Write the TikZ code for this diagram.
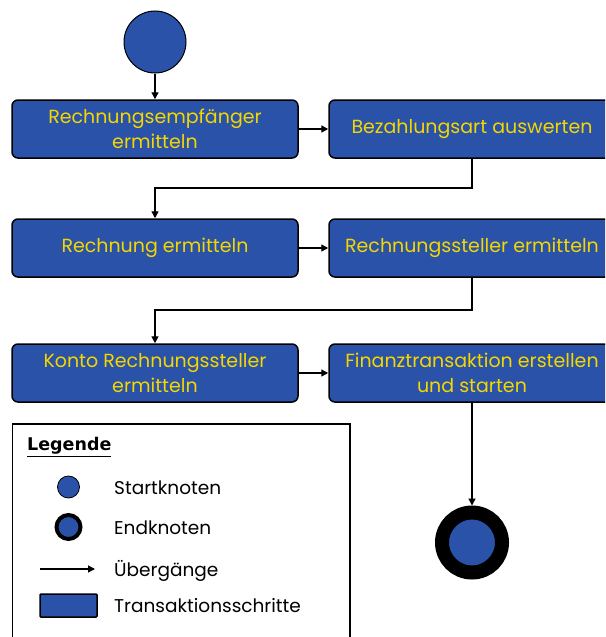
\documentclass[tikz,border=0pt]{standalone}
\usepackage{fontspec}
\setmainfont{Poppins}
\newfontfamily\titlefont{DejaVu Sans}
\usetikzlibrary{arrows.meta}
\definecolor{stepblue}{RGB}{41,82,168}
\definecolor{stepyellow}{RGB}{245,215,0}

\begin{document}
\begin{tikzpicture}[x=1pt,y=-1pt,
  stepbox/.style={draw=black, line width=1.5pt, fill=stepblue, rounded corners=6pt,
    minimum width=286pt, minimum height=58pt, text=stepyellow, align=center,
    font=\fontsize{19}{25}\selectfont, inner sep=0pt},
  flow/.style={line width=1.4pt, -{Triangle[length=7pt,width=7pt]}},
  legtext/.style={anchor=west, font=\fontsize{18.5}{20}\selectfont, text=black, inner sep=0pt}]
\clip (0,0) rectangle (605,637);
\fill[white] (0,0) rectangle (605,637);

% start node
\node[circle, fill=stepblue, draw=black, line width=1pt, minimum size=62pt, inner sep=0pt] (start) at (155,42) {};

% transaction steps
\node[stepbox] (s1) at (155,129) {Rechnungsempfänger\\ermitteln};
\node[stepbox] (s2) at (472,129) {Bezahlungsart auswerten};
\node[stepbox] (s3) at (155,248) {Rechnung ermitteln};
\node[stepbox] (s4) at (472,248) {Rechnungssteller ermitteln};
\node[stepbox] (s5) at (155,373) {Konto Rechnungssteller\\ermitteln};
\node[stepbox] (s6) at (472,373) {Finanztransaktion erstellen\\und starten};

% end node
\node[circle, fill=stepblue, draw=black, line width=14pt, minimum size=60pt, inner sep=0pt] (end) at (472,542.5) {};

% transitions
\coordinate (j1) at (472,188);
\coordinate (j2) at (472,310);
\draw[flow] (start) -- (s1);
\draw[flow] (s1) -- (s2);
\draw[flow] (s2) -- (j1) -| (s3);
\draw[flow] (s3) -- (s4);
\draw[flow] (s4) -- (j2) -| (s5);
\draw[flow] (s5) -- (s6);
\draw[flow] (s6) -- (end);

% legend
\draw[line width=1.5pt] (12.7,424) rectangle (350,660);
\node[anchor=west, inner sep=0pt, font=\titlefont\bfseries\fontsize{17.5}{19}\selectfont] (lt) at (27,447) {\underline{Legende}};
\node[circle, fill=stepblue, draw=black, line width=0.8pt, minimum size=22pt, inner sep=0pt] (lstart) at (68.5,487) {};
\node[legtext] (lstartt) at (114,488) {Startknoten};
\node[circle, fill=stepblue, draw=black, line width=4pt, minimum size=24pt, inner sep=0pt] (lend) at (68.5,527) {};
\node[legtext] (lendt) at (114,528) {Endknoten};
\coordinate (la1) at (40,569);
\coordinate (la2) at (95,569);
\draw[flow, line width=1.2pt] (la1) -- (la2);
\node[legtext] (larrt) at (114,571) {Übergänge};
\node[draw=black, line width=1.5pt, fill=stepblue, minimum width=57pt, minimum height=23pt, inner sep=0pt, rounded corners=1pt] (lbox) at (68.5,605.5) {};
\node[legtext] (lboxt) at (114,606) {Transaktionsschritte};
\end{tikzpicture}
\end{document}
